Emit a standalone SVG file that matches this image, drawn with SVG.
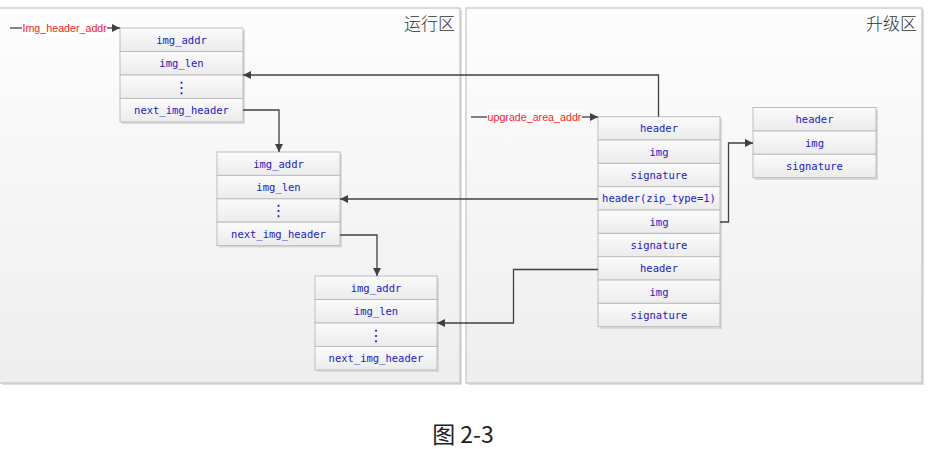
<svg xmlns="http://www.w3.org/2000/svg" width="939" height="449" viewBox="0 0 939 449">
<defs>
<linearGradient id="pg" x1="0" y1="0" x2="0" y2="1"><stop offset="0" stop-color="#fdfdfd"/><stop offset="1" stop-color="#eeeeee"/></linearGradient>
<linearGradient id="rg" x1="0" y1="0" x2="0" y2="1"><stop offset="0" stop-color="#fbfbfb"/><stop offset="1" stop-color="#ebebeb"/></linearGradient>
<marker id="ah" markerUnits="userSpaceOnUse" markerWidth="9" markerHeight="8" refX="8" refY="4" orient="auto"><path d="M0,0 L8,4 L0,8 Z" fill="#404040"/></marker>
<style>
.panel{fill:url(#pg);stroke:#c4c4c4;stroke-width:1.2}
.pshadow{fill:#dedede}
.row{fill:url(#rg);stroke:#bdbdbd;stroke-width:1}
.bshadow{fill:#d9d9d9}
.t{font-family:"DejaVu Sans Mono","Liberation Mono",monospace;font-size:10.5px;fill:#2020c8;text-anchor:middle}
.dots{font-family:"DejaVu Sans",sans-serif;font-size:16px;fill:#2020c8;text-anchor:middle}
.lbl{font-family:"Liberation Sans",Arial,sans-serif;font-size:10.7px;fill:#ff2020}
.ttl{font-family:"Noto Sans CJK SC",sans-serif;font-size:17px;fill:#333;text-anchor:end;font-weight:300}
.cap{font-family:"Noto Sans CJK SC",sans-serif;font-size:23px;fill:#222;text-anchor:middle}
.ln{fill:none;stroke:#404040;stroke-width:1.3}
</style>
</defs>
<rect width="939" height="449" fill="#ffffff"/>

<g id="panel-run">
<rect class="pshadow" x="2" y="10" width="460" height="375"/>
<rect class="panel" x="-1" y="8" width="461" height="375"/>
<text class="ttl" x="455" y="30">运行区</text>
</g>
<g id="panel-upgrade">
<rect class="pshadow" x="468" y="10" width="456" height="375"/>
<rect class="panel" x="466" y="8" width="456" height="375"/>
<text class="ttl" x="917" y="30">升级区</text>
</g>

<g id="box1">
<rect class="bshadow" x="122" y="30" width="123" height="94"/>
<rect class="row" x="120" y="28" width="123" height="23.5"/>
<rect class="row" x="120" y="51.5" width="123" height="23.5"/>
<rect class="row" x="120" y="75" width="123" height="23.5"/>
<rect class="row" x="120" y="98.5" width="123" height="23.5"/>
<text class="t" x="181.5" y="43.5">img_addr</text>
<text class="t" x="181.5" y="67">img_len</text>
<text class="dots" x="181.5" y="92.5">⋮</text>
<text class="t" x="181.5" y="114">next_img_header</text>
</g>

<g id="box2">
<rect class="bshadow" x="219" y="154" width="123" height="93.5"/>
<rect class="row" x="217" y="152" width="123" height="23.4"/>
<rect class="row" x="217" y="175.4" width="123" height="23.4"/>
<rect class="row" x="217" y="198.8" width="123" height="23.4"/>
<rect class="row" x="217" y="222.2" width="123" height="23.4"/>
<text class="t" x="278.5" y="167.5">img_addr</text>
<text class="t" x="278.5" y="191">img_len</text>
<text class="dots" x="278.5" y="216">⋮</text>
<text class="t" x="278.5" y="238">next_img_header</text>
</g>

<g id="box3">
<rect class="bshadow" x="317" y="278" width="122" height="94"/>
<rect class="row" x="315" y="276" width="122" height="23.5"/>
<rect class="row" x="315" y="299.5" width="122" height="23.5"/>
<rect class="row" x="315" y="323" width="122" height="23.5"/>
<rect class="row" x="315" y="346.5" width="122" height="23.5"/>
<text class="t" x="376" y="291.5">img_addr</text>
<text class="t" x="376" y="315">img_len</text>
<text class="dots" x="376" y="340.5">⋮</text>
<text class="t" x="376" y="362">next_img_header</text>
</g>

<g id="upgrade-box">
<rect class="bshadow" x="600" y="119" width="122" height="210"/>
<rect class="row" x="598" y="116.7" width="122" height="23.33"/>
<rect class="row" x="598" y="140.03" width="122" height="23.33"/>
<rect class="row" x="598" y="163.36" width="122" height="23.33"/>
<rect class="row" x="598" y="186.7" width="122" height="23.33"/>
<rect class="row" x="598" y="210.03" width="122" height="23.33"/>
<rect class="row" x="598" y="233.36" width="122" height="23.33"/>
<rect class="row" x="598" y="256.7" width="122" height="23.33"/>
<rect class="row" x="598" y="280.03" width="122" height="23.33"/>
<rect class="row" x="598" y="303.36" width="122" height="23.33"/>
<text class="t" x="659" y="132">header</text>
<text class="t" x="659" y="155.5">img</text>
<text class="t" x="659" y="179">signature</text>
<text class="t" x="659" y="202">header(zip_type=1)</text>
<text class="t" x="659" y="225.5">img</text>
<text class="t" x="659" y="249">signature</text>
<text class="t" x="659" y="272">header</text>
<text class="t" x="659" y="295.5">img</text>
<text class="t" x="659" y="319">signature</text>
</g>

<g id="unzip-box">
<rect class="bshadow" x="755" y="109.5" width="123" height="70.5"/>
<rect class="row" x="753" y="107.5" width="123" height="23.5"/>
<rect class="row" x="753" y="131" width="123" height="23.3"/>
<rect class="row" x="753" y="154.3" width="123" height="23.4"/>
<text class="t" x="814.5" y="123">header</text>
<text class="t" x="814.5" y="146.5">img</text>
<text class="t" x="814.5" y="169.5">signature</text>
</g>

<g id="label-img-header-addr">
<rect x="22" y="21" width="86" height="14" fill="#ffffff"/>
<text class="lbl" x="22.5" y="32">Img_header_addr</text>
</g>
<g id="label-upgrade-area-addr">
<rect x="487" y="110" width="95" height="14" fill="#ffffff"/>
<text class="lbl" x="487.5" y="121">upgrade_area_addr</text>
</g>

<g id="connectors">
<path class="ln" d="M10,28 H22"/>
<path class="ln" d="M107,28 H120" marker-end="url(#ah)"/>
<path class="ln" d="M471,117 H487"/>
<path class="ln" d="M582,117 H598" marker-end="url(#ah)"/>
<path class="ln" d="M243,110 H279 V152" marker-end="url(#ah)"/>
<path class="ln" d="M340,235 H377 V276" marker-end="url(#ah)"/>
<path class="ln" d="M658.5,116.7 V75 H243" marker-end="url(#ah)"/>
<path class="ln" d="M598,199 H340" marker-end="url(#ah)"/>
<path class="ln" d="M720,222 H728.5 V143 H753" marker-end="url(#ah)"/>
<path class="ln" d="M598,269.5 H513.5 V323 H437" marker-end="url(#ah)"/>
</g>

<text class="cap" x="463" y="443">图 2-3</text>
</svg>
